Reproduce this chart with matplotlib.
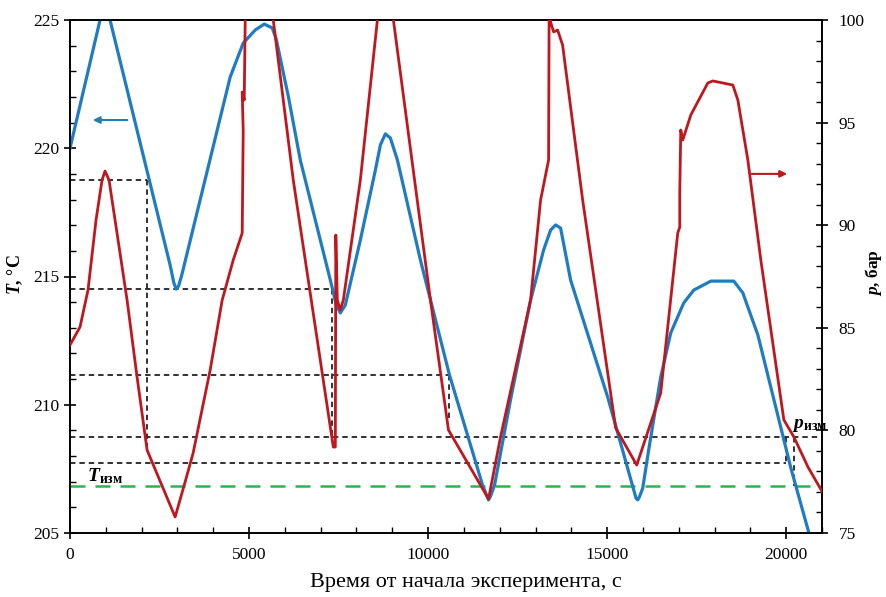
import matplotlib
matplotlib.use("Agg")
import matplotlib.pyplot as plt
from matplotlib.ticker import MultipleLocator

plt.rcParams['font.family'] = ['Liberation Serif', 'DejaVu Serif']
plt.rcParams['mathtext.fontset'] = 'custom'
plt.rcParams['mathtext.rm'] = 'Liberation Serif'
plt.rcParams['mathtext.it'] = 'Liberation Serif:italic'
plt.rcParams['mathtext.bf'] = 'Liberation Serif:bold'
plt.rcParams['mathtext.bfit'] = 'Liberation Serif:italic:bold'

# ---- data: temperature (left axis) ----
t_T = [0, 839, 979, 1118, 2795, 2900, 2964, 3030, 3120, 4474, 4837, 5173, 5424,
       5648, 5760, 6100, 6431, 7270, 7437, 7549, 7689, 8108, 8528, 8668, 8807,
       8947, 9143, 9786, 10597, 11520, 11640, 11688, 11740, 11856, 12302, 12862,
       13225, 13421, 13561, 13700, 13980, 15015, 15742, 15810, 15854, 15900,
       15994, 16160, 16496, 16776, 17139, 17419, 17894, 18537, 18789, 19209,
       20131, 20635, 20830]
T_vals = [220.0, 225.0, 225.3, 225.0, 215.45, 214.75, 214.51, 214.62, 215.05,
          222.78, 224.10, 224.61, 224.84, 224.69, 224.25, 222.0, 219.54, 214.86,
          213.89, 213.58, 213.89, 216.42, 219.15, 220.13, 220.56, 220.40, 219.54,
          215.64, 211.16, 206.87, 206.45, 206.29, 206.42, 206.87, 210.19, 214.08,
          216.03, 216.81, 217.01, 216.89, 214.86, 210.30, 206.68, 206.35, 206.29,
          206.40, 206.75, 208.24, 211.08, 212.80, 213.97, 214.47, 214.82, 214.82,
          214.36, 212.72, 207.53, 205.0, 204.14]

# ---- data: pressure (right axis) ----
t_p = [0, 280, 503, 727, 895, 979, 1090, 1342, 1594, 1873, 2153, 2936, 3215,
       3439, 3914, 4250, 4558, 4809, 4837, 4809, 4865, 4893, 4949, 5313, 5676,
       6235, 7353, 7409, 7423, 7465, 7549, 7633, 8108, 8584, 8807, 9031, 10066,
       10569, 11688, 12023, 12862, 13142, 13365, 13379, 13400, 13421, 13505,
       13617, 13756, 14316, 15238, 15826, 16496, 16972, 17028, 17028, 17056,
       17112, 17336, 17811, 17951, 18510, 18650, 18929, 19292, 19935, 20215,
       20607, 21026]
p_vals = [84.16, 85.04, 86.84, 90.25, 92.20, 92.64, 92.20, 89.28, 86.35, 82.60,
          79.04, 75.78, 77.49, 78.90, 82.94, 86.35, 88.30, 89.62, 94.59, 96.49,
          96.10, 100.0, 101.95, 102.9, 100.0, 92.20, 79.19, 79.19, 89.52, 86.35,
          85.87, 86.35, 92.20, 100.0, 102.9, 100.0, 86.35, 80.02, 76.66, 79.68,
          86.35, 91.23, 93.18, 100.0, 100.6, 99.90, 99.42, 99.51, 98.78, 91.23,
          80.12, 78.31, 81.82, 89.62, 89.91, 91.57, 94.64, 94.15, 95.37, 96.93,
          97.03, 96.83, 96.10, 93.18, 88.30, 80.51, 79.68, 78.22, 76.95]

# ---- reading lines (in T units) ----
h_levels = [218.76, 214.51, 211.16, 208.74, 207.73]
h_ends = [2153, 7326, 10597, 21000, 19991]
v_times = [2153, 7326, 10597, 19991, 20215]
v_top = [218.76, 214.51, 211.16, 208.74, 208.74]
v_bottom = [208.31, 208.63, 209.48, 207.73, 206.83]
T_meas = 206.83

blue = '#1f7cc2'
red = '#c0171f'
green = '#2fb34f'

fig = plt.figure(figsize=(8.87, 5.97), dpi=100)
ax = fig.add_axes([70/887, 1-533/597, 752/887, 513/597])
ax2 = ax.twinx()

for lvl, end in zip(h_levels, h_ends):
    ax.plot([0, end], [lvl, lvl], color='#222222', lw=1.3, ls=(0, (3, 2.2)), zorder=2)
for tv, a, b in zip(v_times, v_top, v_bottom):
    ax.plot([tv, tv], [a, b], color='#222222', lw=1.3, ls=(0, (3, 2.2)), zorder=2)
ax.axhline(T_meas, color=green, lw=1.8, ls=(0, (6, 4)), zorder=2)

ax.plot(t_T, T_vals, color=blue, lw=2.3, zorder=3, solid_joinstyle='round')
ax2.plot(t_p, p_vals, color=red, lw=2.0, zorder=3, solid_joinstyle='round')

ax.set_xlim(0, 21000)
ax.set_ylim(205, 225)
ax2.set_ylim(75, 100)

ax.xaxis.set_major_locator(MultipleLocator(5000))
ax.xaxis.set_minor_locator(MultipleLocator(1000))
ax.yaxis.set_major_locator(MultipleLocator(5))
ax.yaxis.set_minor_locator(MultipleLocator(1))
ax2.yaxis.set_major_locator(MultipleLocator(5))
ax2.yaxis.set_minor_locator(MultipleLocator(1))

for a in (ax, ax2):
    for s in a.spines.values():
        s.set_linewidth(1.2)
ax.tick_params(which='major', direction='inout', length=8, width=1.2, labelsize=12.5)
ax.tick_params(which='minor', direction='in', length=4, width=1.0)
ax.tick_params(axis='x', which='major', pad=6)
ax2.tick_params(which='major', direction='inout', length=8, width=1.2, labelsize=12.5, pad=8)
ax2.tick_params(which='minor', direction='in', length=4, width=1.0)

# arrows
ax.annotate('', xy=(559, 221.1), xytext=(1678, 221.1),
            arrowprops=dict(arrowstyle='-|>', color=blue, lw=1.5, mutation_scale=10))
ax2.annotate('', xy=(20103, 92.5), xytext=(18957, 92.5),
             arrowprops=dict(arrowstyle='-|>', color=red, lw=1.5, mutation_scale=10))

ax.text(480, 207.2, r'$\bfit{T}_{\mathbf{изм}}$', fontsize=14, ha='left', va='center', zorder=5)
ax.text(20160, 209.2, r'$\bfit{p}_{\mathbf{изм}}$', fontsize=14, ha='left', va='center', zorder=5)

fig.text(466/887, 1-582/597, 'Время от начала эксперимента, с', ha='center', va='center', fontsize=16)
fig.text(15/887, 1-275/597, r'$\bfit{T}$, °C', rotation=90, ha='center', va='center',
         fontsize=13, fontweight='bold')
fig.text(874/887, 1-273/597, r'$\bfit{p}$, бар', rotation=90, ha='center', va='center',
         fontsize=12.5, fontweight='bold')

fig.savefig('out.png', dpi=100)
